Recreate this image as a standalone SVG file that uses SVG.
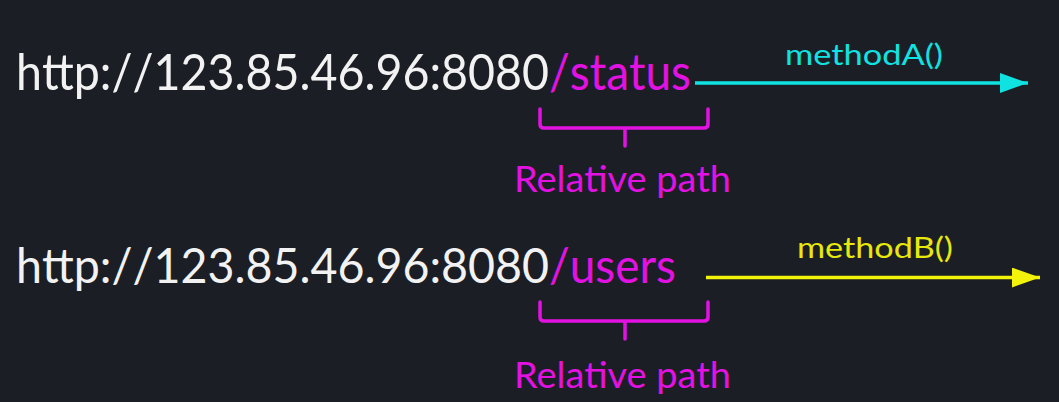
<svg xmlns="http://www.w3.org/2000/svg" width="1059" height="402" viewBox="0 0 1059 402">
<defs>
<style>
.url{font-family:Lato,"Liberation Sans",sans-serif;font-size:50px;fill:#f2f2f2;font-kerning:none}
.url2{font-size:48.5px}
.rel{fill:#e312e3}
.lbl{font-family:Lato,"Liberation Sans",sans-serif;font-size:36px;fill:#e312e3}
.meth{font-family:Lato,"Liberation Sans",sans-serif;font-size:29px}
.brace{fill:none;stroke:#e312e3;stroke-width:3.5;stroke-linejoin:round;stroke-linecap:round}
</style>
<marker id="hc" viewBox="0 0 28 20" refX="28" refY="10" markerWidth="28" markerHeight="20" markerUnits="userSpaceOnUse" orient="auto"><path d="M0,0 L28,10 L0,20 Z" fill="#10e2e2"/></marker>
<marker id="hy" viewBox="0 0 28 20" refX="28" refY="10" markerWidth="28" markerHeight="20" markerUnits="userSpaceOnUse" orient="auto"><path d="M0,0 L28,10 L0,20 Z" fill="#f2f20a"/></marker>
</defs>
<rect width="1059" height="402" fill="#1b1e25"/>
<g id="url1">
<text class="url" x="16" y="90" textLength="533" lengthAdjust="spacingAndGlyphs">http://123.85.46.96:8080</text>
<text class="url rel" x="549" y="90" textLength="142" lengthAdjust="spacingAndGlyphs">/status</text>
</g>
<g id="rel1">
<path class="brace" d="M540,109 V124 Q540,128 544,128 H704 Q708,128 708,124 V109 M625,128 V146"/>
<text class="lbl" x="514" y="192" textLength="217" lengthAdjust="spacingAndGlyphs">Relative path</text>
</g>
<g id="url2">
<text class="url url2" x="16" y="283" textLength="533" lengthAdjust="spacingAndGlyphs">http://123.85.46.96:8080</text>
<text class="url url2 rel" x="549" y="283" textLength="127" lengthAdjust="spacingAndGlyphs">/users</text>
</g>
<g id="rel2">
<path class="brace" d="M540,302 V317 Q540,321 544,321 H704 Q708,321 708,317 V302 M625,321 V339"/>
<text class="lbl" x="514" y="388" textLength="217" lengthAdjust="spacingAndGlyphs">Relative path</text>
</g>
<g id="connectors">
<line x1="695" y1="83" x2="1028" y2="83" stroke="#10e2e2" stroke-width="3.5" marker-end="url(#hc)"/>
<text class="meth" x="785" y="65" fill="#10e2e2" textLength="158" lengthAdjust="spacingAndGlyphs">methodA()</text>
<line x1="706" y1="277.5" x2="1040" y2="277.5" stroke="#f2f20a" stroke-width="3.5" marker-end="url(#hy)"/>
<text class="meth" x="797" y="258" fill="#e8e80a" textLength="156" lengthAdjust="spacingAndGlyphs">methodB()</text>
</g>
</svg>
